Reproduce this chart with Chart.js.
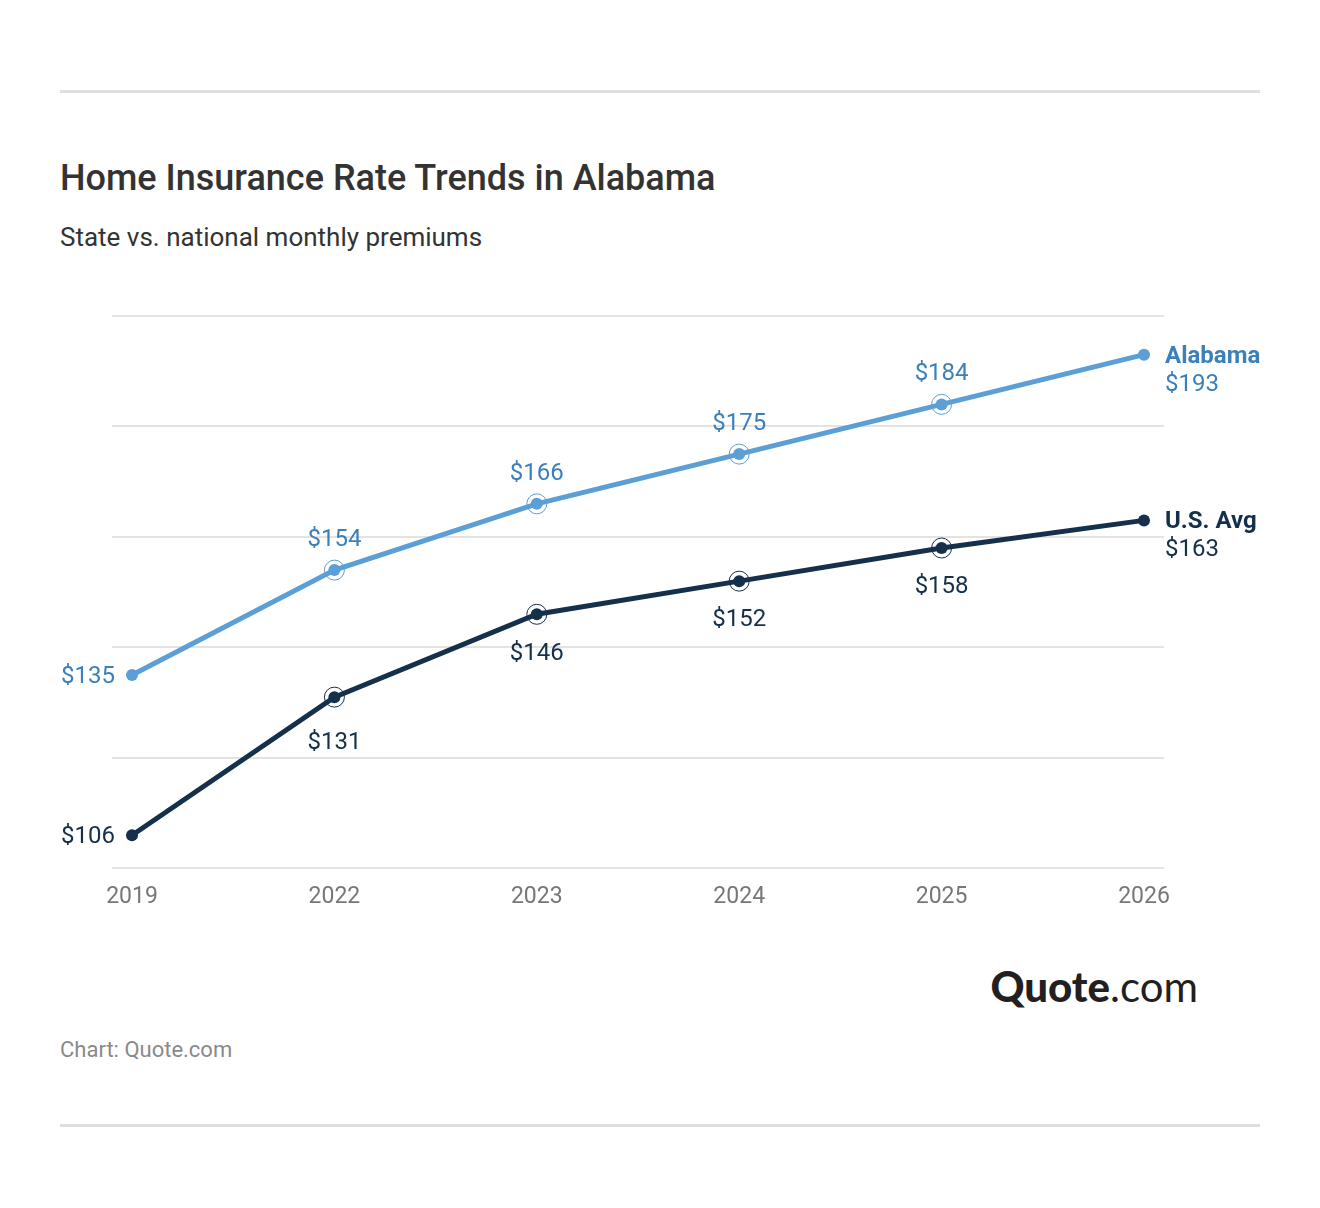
<!DOCTYPE html>
<html>
<head>
<meta charset="utf-8">
<script src="https://cdn.jsdelivr.net/npm/chart.js@4.4.1/dist/chart.umd.min.js"></script>
<style>
    body { margin: 0; background: #fff; font-family: Roboto, sans-serif; }
    #page { position: relative; width: 1320px; height: 1208px; overflow: hidden; }
    .rule { position: absolute; left: 60px; width: 1200px; height: 3px; background: #dedede; }
    #title { position: absolute; left: 60px; top: 158px; font-size: 36px; font-weight: 500; color: #333; line-height: 40px; }
    #subtitle { position: absolute; left: 60px; top: 222px; font-size: 26px; color: #333; line-height: 30px; }
    #chartBox { position: absolute; left: 0; top: 0; }
    #logo { position: absolute; right: 122px; top: 960px; font-family: Lato, sans-serif; font-size: 42px; color: #231f20; line-height: 52px; }
    #logo b { font-weight: 900; }
    #source { position: absolute; left: 60px; top: 1037px; font-size: 22px; color: #8a8a8a; line-height: 26px; }
</style>
</head>
<body>
<div id="page">
    <div class="rule" style="top: 90px"></div>
    <div id="title">Home Insurance Rate Trends in Alabama</div>
    <div id="subtitle">State vs. national monthly premiums</div>
    <div id="chartBox"><canvas id="chart" width="1320" height="960"></canvas></div>
    <div id="logo"><b>Quote</b>.com</div>
    <div id="source">Chart: Quote.com</div>
    <div class="rule" style="top: 1124px"></div>
</div>
<script>
const years = ['2019', '2022', '2023', '2024', '2025', '2026']
const alabama = [135, 154, 166, 175, 184, 193]
const usAvg = [106, 131, 146, 152, 158, 163]
const yTicks = [100, 120, 140, 160, 180, 200]

const lightBlue = '#5b9fd6'
const lightText = '#3b80bb'
const navy = '#14304a'

// labels + rings around the middle points
const pointLabels = {
    id: 'pointLabels',
    afterDatasetsDraw(chart) {
        const ctx = chart.ctx
        ctx.save()
        chart.data.datasets.forEach(function (ds, di) {
            const meta = chart.getDatasetMeta(di)
            const above = di === 0
            const textColor = above ? lightText : navy
            meta.data.forEach(function (pt, i) {
                const val = '$' + ds.data[i].y
                const y = pt.y + 2
                ctx.fillStyle = textColor
                ctx.textBaseline = 'middle'
                if (i === 0) {
                    ctx.font = '24px Roboto'
                    ctx.textAlign = 'right'
                    ctx.fillText(val, pt.x - 17, y)
                } else if (i === ds.data.length - 1) {
                    ctx.textAlign = 'left'
                    ctx.font = 'bold 24px Roboto'
                    ctx.fillText(ds.label, pt.x + 21, y)
                    ctx.font = '24px Roboto'
                    ctx.fillText(val, pt.x + 21, y + 28)
                } else {
                    ctx.strokeStyle = ds.borderColor
                    ctx.lineWidth = 1
                    ctx.beginPath()
                    ctx.arc(pt.x, pt.y, 10, 0, Math.PI * 2)
                    ctx.stroke()
                    ctx.font = '24px Roboto'
                    ctx.textAlign = 'center'
                    // push labels below a steep incoming segment a bit further down
                    const prev = meta.data[i - 1]
                    const slope = Math.abs((pt.y - prev.y) / (pt.x - prev.x))
                    const extra = Math.max(0, slope - 0.35) * 20
                    ctx.fillText(val, pt.x, above ? y - 32 : y + 37 + extra)
                }
            })
        })
        ctx.restore()
    }
}

const ctx = document.getElementById('chart').getContext('2d')
const chart = new Chart(ctx, {
    type: 'line',
    data: {
        datasets: [{
            label: 'Alabama',
            data: alabama.map((v, i) => ({ x: i, y: v })),
            borderColor: lightBlue,
            backgroundColor: lightBlue,
            borderWidth: 5,
            pointRadius: 6,
            pointBorderWidth: 0,
            tension: 0
        }, {
            label: 'U.S. Avg',
            data: usAvg.map((v, i) => ({ x: i, y: v })),
            borderColor: navy,
            backgroundColor: navy,
            borderWidth: 5,
            pointRadius: 6,
            pointBorderWidth: 0,
            tension: 0
        }]
    },
    options: {
        responsive: false,
        animation: false,
        layout: { padding: { left: 112, right: 156, top: 316, bottom: 42 } },
        plugins: { legend: { display: false }, tooltip: { enabled: false } },
        scales: {
            x: {
                type: 'linear',
                min: -0.0988,
                max: 5.0988,
                afterBuildTicks: function (axis) {
                    axis.ticks = years.map((y, i) => ({ value: i }))
                },
                ticks: {
                    padding: 7,
                    color: '#777',
                    font: { family: 'Roboto', size: 23 },
                    callback: function (v) { return years[v] }
                },
                grid: { display: false },
                border: { display: false }
            },
            y: {
                min: yTicks[0],
                max: yTicks[yTicks.length - 1],
                afterBuildTicks: function (axis) {
                    axis.ticks = yTicks.map(v => ({ value: v }))
                },
                ticks: { display: false },
                grid: { color: '#e3e3e3', lineWidth: 2, drawTicks: false },
                border: { display: false }
            }
        }
    },
    plugins: [pointLabels]
})
</script>
</body>
</html>
